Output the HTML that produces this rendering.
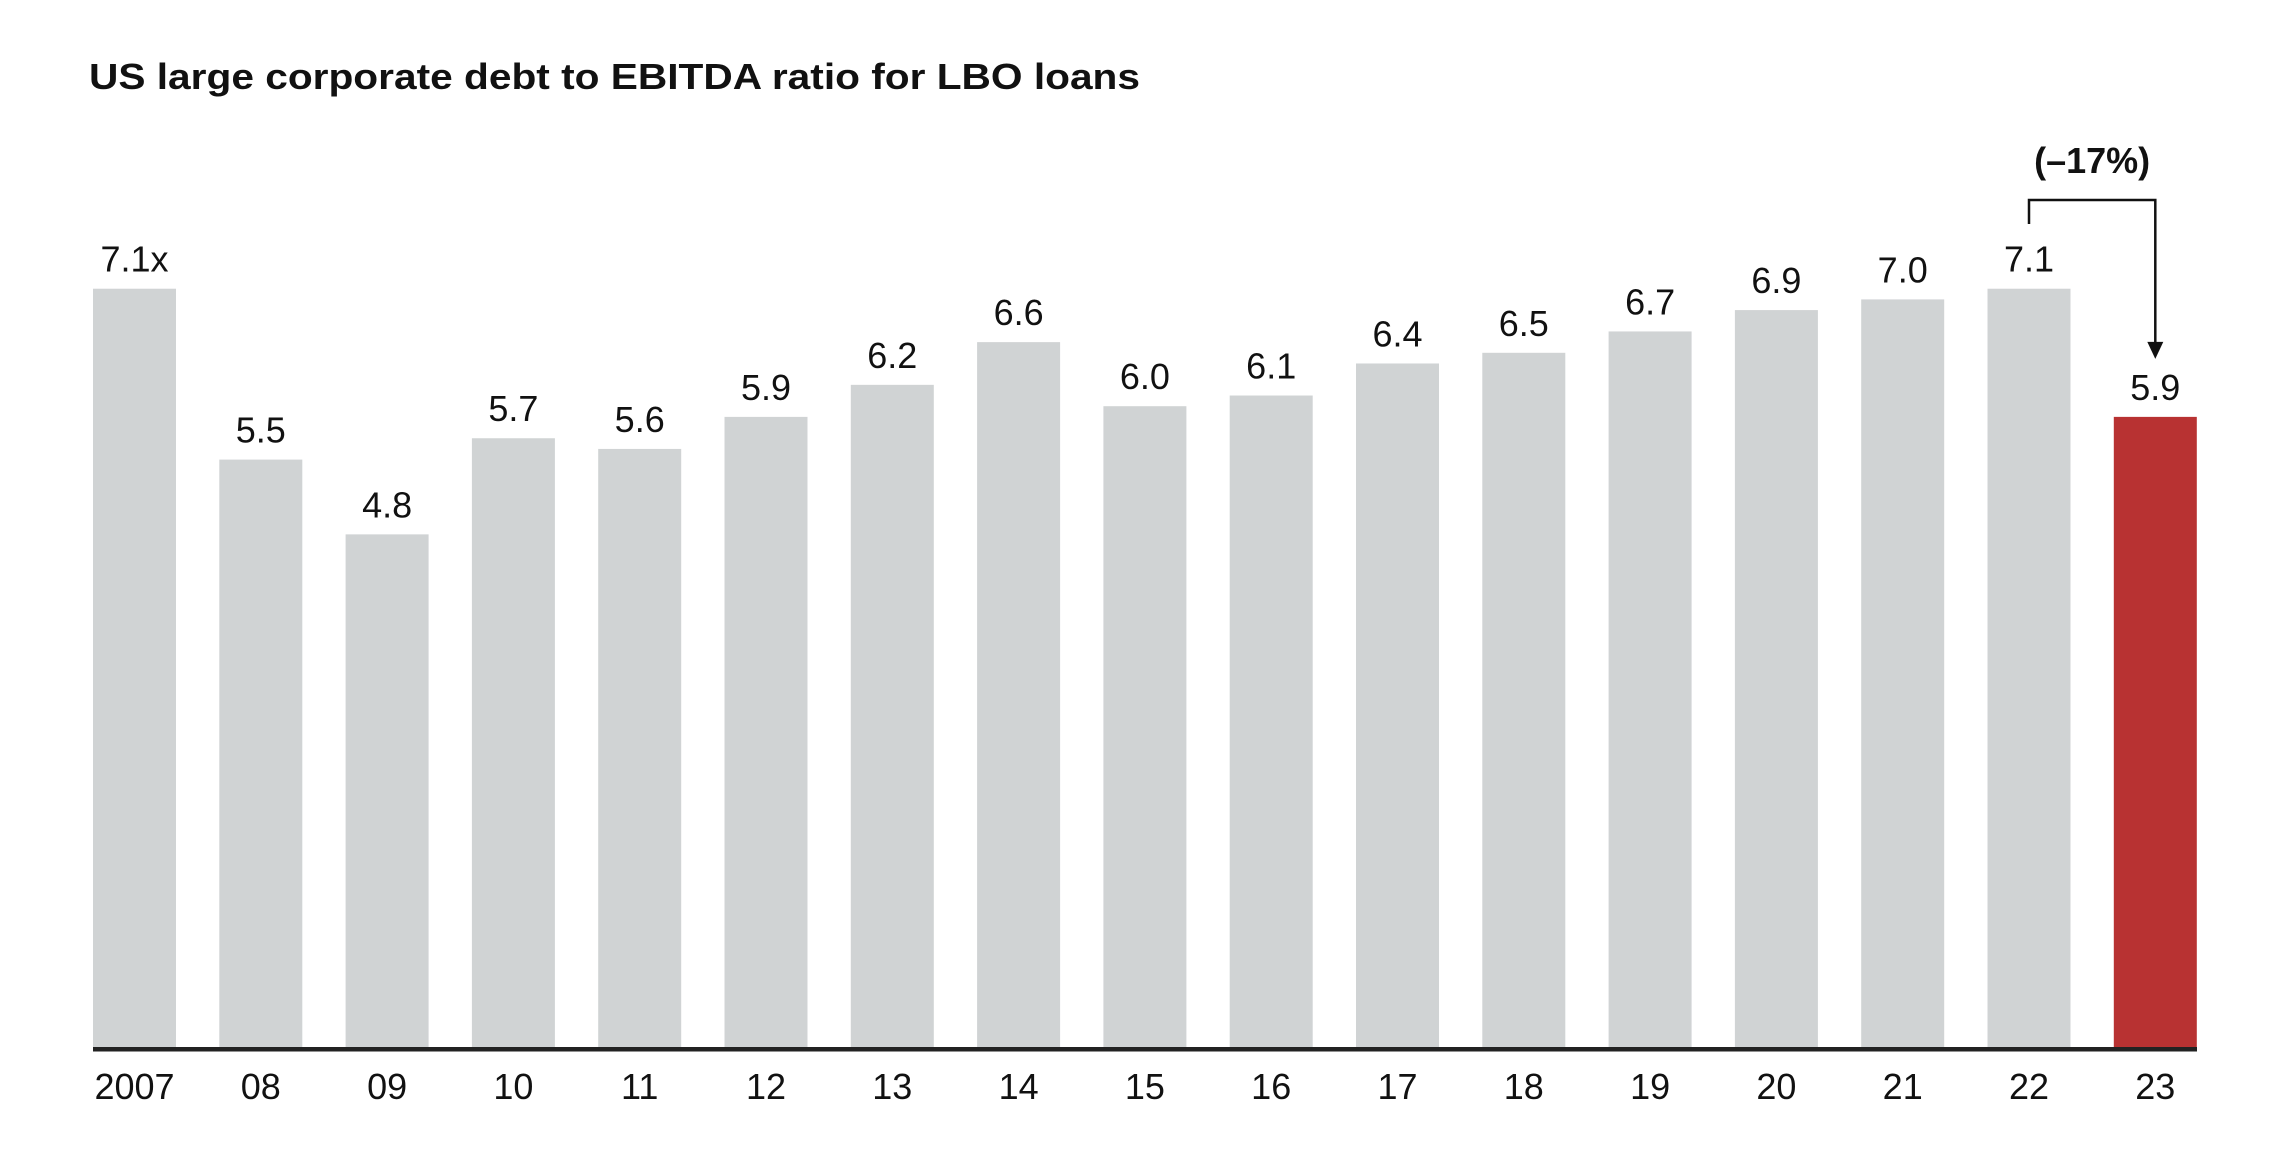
<!DOCTYPE html>
<html><head><meta charset="utf-8"><style>
html,body{margin:0;padding:0;background:#fff;}
svg{display:block;}
text{font-family:"Liberation Sans",Arial,sans-serif;fill:#111;}
</style></head><body>
<svg id="chart" width="2274" height="1161" viewBox="0 0 2274 1161" xmlns="http://www.w3.org/2000/svg">
<text x="89" y="89" font-size="36" font-weight="bold" textLength="1051" lengthAdjust="spacingAndGlyphs">US large corporate debt to EBITDA ratio for LBO loans</text>
<g id="bars"></g>
<g id="vlabels"></g>
<g id="xlabels"></g>
<rect x="93" y="1047" width="2104" height="4.5" fill="#222"/>
<g id="annot"></g>
</svg>
<script>
const categories = ["2007","08","09","10","11","12","13","14","15","16","17","18","19","20","21","22","23"];
const values = [7.1,5.5,4.8,5.7,5.6,5.9,6.2,6.6,6.0,6.1,6.4,6.5,6.7,6.9,7.0,7.1,5.9];
const valueLabels = ["7.1x","5.5","4.8","5.7","5.6","5.9","6.2","6.6","6.0","6.1","6.4","6.5","6.7","6.9","7.0","7.1","5.9"];
const changeLabel = "(\u201317%)";

const NS = "http://www.w3.org/2000/svg";
const x0 = 93, pitch = 126.3, bw = 83, base = 1047, ppu = 106.8;
function xPos(i){ return x0 + i*pitch; }
function yPos(v){ return base - v*ppu; }

const bars = document.getElementById('bars');
const vl = document.getElementById('vlabels');
const xl = document.getElementById('xlabels');
const last = categories.length - 1;
categories.forEach((c,i)=>{
  const r = document.createElementNS(NS,'rect');
  
  
  r.setAttribute('x', xPos(i));
  r.setAttribute('y', yPos(values[i]));
  r.setAttribute('width', bw);
  r.setAttribute('height', base - yPos(values[i]));
  r.setAttribute('fill', i === last ? '#b83232' : '#d0d3d4');
  bars.appendChild(r);

  const t = document.createElementNS(NS,'text');
  
  
  t.setAttribute('x', xPos(i) + bw/2);
  t.setAttribute('y', yPos(values[i]) - 17);
  t.setAttribute('text-anchor', 'middle');
  t.setAttribute('font-size', '36');
  t.textContent = valueLabels[i];
  vl.appendChild(t);

  const xt = document.createElementNS(NS,'text');
  
  
  xt.setAttribute('x', xPos(i) + bw/2);
  xt.setAttribute('y', 1099);
  xt.setAttribute('text-anchor', 'middle');
  xt.setAttribute('font-size', '36');
  xt.textContent = c;
  xl.appendChild(xt);
});

const an = document.getElementById('annot');
const xa = xPos(last-1) + bw/2, xb = xPos(last) + bw/2;
const tipY = yPos(values[last]) - 58;
const p = document.createElementNS(NS,'path');


p.setAttribute('d', `M${xa} 224 V200 H${xb} V${tipY-14}`);
p.setAttribute('fill', 'none');
p.setAttribute('stroke', '#111');
p.setAttribute('stroke-width', '2.5');
an.appendChild(p);
const ah = document.createElementNS(NS,'path');


ah.setAttribute('d', `M${xb-8} ${tipY-17} L${xb+8} ${tipY-17} L${xb} ${tipY} Z`);
ah.setAttribute('fill', '#111');
an.appendChild(ah);
const ct = document.createElementNS(NS,'text');


ct.setAttribute('x', (xa+xb)/2);
ct.setAttribute('y', 173);
ct.setAttribute('text-anchor', 'middle');
ct.setAttribute('font-size', '36');
ct.setAttribute('font-weight', 'bold');
ct.textContent = changeLabel;
an.appendChild(ct);
</script>
</body></html>
